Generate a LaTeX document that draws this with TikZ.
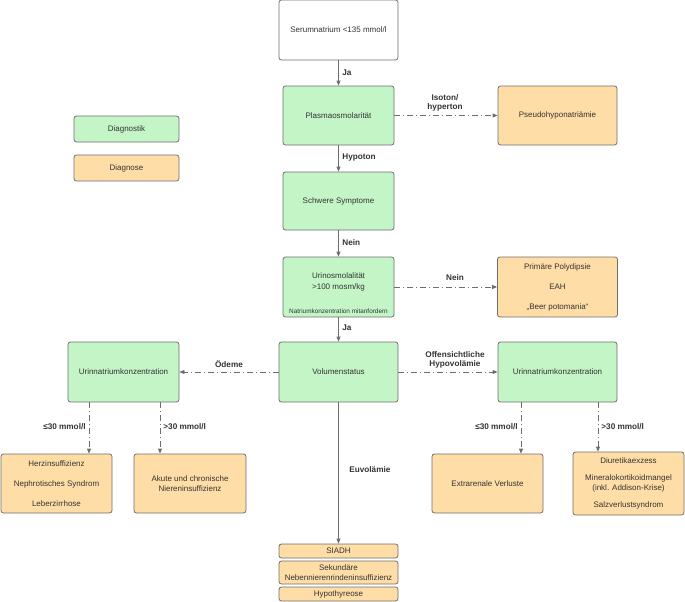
\documentclass[tikz,border=0pt]{standalone}
\usepackage{fontspec}
\setmainfont{Liberation Sans}
\usepackage{xcolor}
\usetikzlibrary{arrows.meta}
\definecolor{diagnostik}{HTML}{C3F5C6}
\definecolor{diagnose}{HTML}{FFDDA6}
\definecolor{rand}{HTML}{6E6E6E}
\definecolor{schrift}{HTML}{333333}

\begin{document}
\begin{tikzpicture}[x=1pt, y=-1pt, line width=0.8pt,
    box/.style={draw=rand, rounded corners=2.5pt, align=center, inner sep=1pt,
        text=schrift, font=\fontsize{8}{10.5}\selectfont},
    gruen/.style={box, fill=diagnostik},
    orange/.style={box, fill=diagnose},
    pfeil/.style={draw=rand, -{Triangle[length=5pt,width=4pt]}},
    strichpunkt/.style={pfeil, dash pattern=on 6pt off 3pt on 1pt off 3pt},
    lbl/.style={text=schrift, font=\bfseries\fontsize{8.2}{9.5}\selectfont, align=center, inner sep=1pt}]
    \useasboundingbox (0,0) rectangle (685,602);

    % Legende
    \node[gruen, minimum width=105pt, minimum height=26pt] (legdiagnostik) at (126.5,129) {Diagnostik};
    \node[orange, minimum width=105pt, minimum height=26pt] (legdiagnose) at (126.5,168) {Diagnose};

    % Hauptachse
    \node[box, fill=white, minimum width=119pt, minimum height=60pt] (serum) at (338.5,30) {Serumnatrium <135 mmol/l};
    \node[gruen, minimum width=111pt, minimum height=59pt] (plasma) at (338.5,115.5) {Plasmaosmolarität};
    \node[orange, minimum width=119pt, minimum height=59pt] (pseudo) at (557.5,115.5) {Pseudohyponatriämie};
    \node[gruen, minimum width=111pt, minimum height=58pt] (schwer) at (338.5,201) {Schwere Symptome};
    \node[gruen, minimum width=111pt, minimum height=60pt] (urinosm) at (338.5,287) {};
    \node[box, draw=none, font=\fontsize{8}{11}\selectfont] at (338.5,282) {Urinosmolalität\\>100 mosm/kg};
    \node[box, draw=none, font=\fontsize{6.4}{7}\selectfont] at (338.5,311) {Natriumkonzentration mitanfordern};
    \node[orange, minimum width=120pt, minimum height=60pt, font=\fontsize{8}{20}\selectfont] (polydipsie) at (557.5,287) {Primäre Polydipsie\\EAH\\„Beer potomania“};
    \node[gruen, minimum width=119pt, minimum height=60pt] (volumen) at (338.5,372) {Volumenstatus};

    % Seitenzweige
    \node[gruen, minimum width=111pt, minimum height=60pt] (natriumlinks) at (123.5,372) {Urinnatriumkonzentration};
    \node[gruen, minimum width=119pt, minimum height=60pt] (natriumrechts) at (557.5,372) {Urinnatriumkonzentration};
    \node[orange, minimum width=111pt, minimum height=59pt, font=\fontsize{8}{20}\selectfont] (herz) at (56.5,483.5) {Herzinsuffizienz\\Nephrotisches Syndrom\\Leberzirrhose};
    \node[orange, minimum width=112pt, minimum height=59pt] (niere) at (190,483.5) {Akute und chronische\\Niereninsuffizienz};
    \node[orange, minimum width=111pt, minimum height=59pt] (extrarenal) at (487.5,483.5) {Extrarenale Verluste};
    \node[orange, minimum width=111pt, minimum height=63pt] (diuretika) at (628.5,483.5) {Diuretikaexzess\\[6pt]Mineralokortikoidmangel\\(inkl. Addison-Krise)\\[6pt]Salzverlustsyndrom};

    % Euvolaemie
    \node[orange, minimum width=119pt, minimum height=14pt] (siadh) at (338.5,551) {SIADH};
    \node[orange, minimum width=119pt, minimum height=23pt, font=\fontsize{8}{9.5}\selectfont] (sekundaer) at (338.5,572.5) {Sekundäre\\Nebennierenrindeninsuffizienz};
    \node[orange, minimum width=119pt, minimum height=14pt] (hypothyreose) at (338.5,594) {Hypothyreose};

    \draw[pfeil] (serum) -- (plasma);
    \node[lbl, anchor=west] at (341,73) {Ja};
    \draw[strichpunkt] (plasma) -- (pseudo);
    \node[lbl] at (445,103) {Isoton/\\hyperton};
    \draw[pfeil] (plasma) -- (schwer);
    \node[lbl, anchor=west] at (341,158) {Hypoton};
    \draw[pfeil] (schwer) -- (urinosm);
    \node[lbl, anchor=west] at (341,243) {Nein};
    \draw[strichpunkt] (urinosm) -- (polydipsie);
    \node[lbl] at (455,278) {Nein};
    \draw[pfeil] (urinosm) -- (volumen);
    \node[lbl, anchor=west] at (341,328) {Ja};
    \draw[strichpunkt] (volumen) -- (natriumlinks);
    \node[lbl] at (229,364) {Ödeme};
    \draw[strichpunkt] (volumen) -- (natriumrechts);
    \node[lbl] at (455,360) {Offensichtliche\\Hypovolämie};
    \draw[pfeil] (volumen) -- (siadh);
    \node[lbl, anchor=west] at (348,470) {Euvolämie};

    \draw[strichpunkt] ([xshift=-34.5pt]natriumlinks.south) -- ([xshift=-34.5pt]natriumlinks.south |- herz.north);
    \node[lbl, anchor=east] at (87,427) {≤30 mmol/l};
    \draw[strichpunkt] ([xshift=36.5pt]natriumlinks.south) -- ([xshift=36.5pt]natriumlinks.south |- niere.north);
    \node[lbl, anchor=west] at (162,427) {>30 mmol/l};
    \draw[strichpunkt] ([xshift=-36.5pt]natriumrechts.south) -- ([xshift=-36.5pt]natriumrechts.south |- extrarenal.north);
    \node[lbl, anchor=east] at (519,427) {≤30 mmol/l};
    \draw[strichpunkt] ([xshift=40.5pt]natriumrechts.south) -- ([xshift=40.5pt]natriumrechts.south |- diuretika.north);
    \node[lbl, anchor=west] at (600,427) {>30 mmol/l};
\end{tikzpicture}
\end{document}
